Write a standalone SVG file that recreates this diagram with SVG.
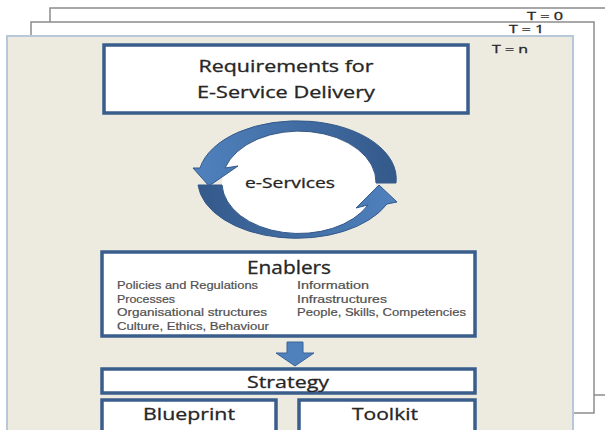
<svg xmlns="http://www.w3.org/2000/svg" width="605" height="430" viewBox="0 0 605 430">
<defs>
<style>
.frame{fill:#ffffff;stroke:#8c8c8c;stroke-width:1.5}
.front{fill:#EDEAE0;stroke:#B7C8DB;stroke-width:2}
.box{fill:#ffffff;stroke:#3A5E8C;stroke-width:3.5}
.t{font-family:"Open Sans","Liberation Sans",sans-serif;fill:#262626;stroke:#262626;stroke-width:0.3}
.item{font-family:"Liberation Sans","Open Sans",sans-serif;fill:#505050;stroke:#505050;stroke-width:0.2;font-size:10.8px}
.ring{stroke:#34598A;stroke-width:1}
</style>
<linearGradient id="gTop" x1="1" y1="0" x2="0" y2="0">
<stop offset="0" stop-color="#34598A"/>
<stop offset="1" stop-color="#5082BE"/>
</linearGradient>
<linearGradient id="gBot" x1="0" y1="0" x2="1" y2="0">
<stop offset="0" stop-color="#34598A"/>
<stop offset="1" stop-color="#5082BE"/>
</linearGradient>
</defs>

<g id="frame-t0">
<rect class="frame" x="50" y="8" width="570" height="387"/>
<text class="t" x="545" y="20" font-size="11" text-anchor="middle" textLength="36" lengthAdjust="spacingAndGlyphs">T = 0</text>
</g>
<g id="frame-t1">
<rect class="frame" x="31" y="22" width="563" height="391"/>
<text class="t" x="526.5" y="33" font-size="11" text-anchor="middle" textLength="35" lengthAdjust="spacingAndGlyphs">T = 1</text>
</g>
<g id="frame-tn">
<rect class="front" x="7" y="36" width="566" height="410"/>
<text class="t" x="510" y="53" font-size="11" text-anchor="middle" textLength="36" lengthAdjust="spacingAndGlyphs">T = n</text>
</g>

<g id="requirements">
<rect class="box" x="104" y="45" width="364" height="68"/>
<text class="t" x="286" y="72" font-size="15.5" text-anchor="middle" textLength="175" lengthAdjust="spacingAndGlyphs">Requirements for</text>
<text class="t" x="286" y="98" font-size="15.5" text-anchor="middle" textLength="178" lengthAdjust="spacingAndGlyphs">E-Service Delivery</text>
</g>

<g id="e-services">
<ellipse cx="299" cy="183" rx="77" ry="51" fill="#ffffff"/>
<path class="ring" fill="url(#gTop)" d="M376,183 L396,183 A99,58 0 0 0 200,168 L193,168 L209,186 L238,166 L225,168 A77,51 0 0 1 376,183 Z"/>
<path class="ring" fill="url(#gBot)" d="M198,185 A99,58 0 0 0 387,204 L397,202 L379,185 L356,208 L368,205 A77,51 0 0 1 222,185 Z"/>
<text class="t" x="290" y="188" font-size="14" text-anchor="middle" textLength="90" lengthAdjust="spacingAndGlyphs">e-Services</text>
</g>

<g id="enablers">
<rect class="box" x="102" y="252" width="373" height="84"/>
<text class="t" x="289" y="274" font-size="17.5" text-anchor="middle" textLength="84" lengthAdjust="spacingAndGlyphs">Enablers</text>
<text class="item" x="117" y="289" textLength="141" lengthAdjust="spacingAndGlyphs">Policies and Regulations</text>
<text class="item" x="117" y="303" textLength="58" lengthAdjust="spacingAndGlyphs">Processes</text>
<text class="item" x="117" y="316" textLength="150" lengthAdjust="spacingAndGlyphs">Organisational structures</text>
<text class="item" x="117" y="330" textLength="152" lengthAdjust="spacingAndGlyphs">Culture, Ethics, Behaviour</text>
<text class="item" x="297" y="289" textLength="72" lengthAdjust="spacingAndGlyphs">Information</text>
<text class="item" x="297" y="303" textLength="90" lengthAdjust="spacingAndGlyphs">Infrastructures</text>
<text class="item" x="297" y="316" textLength="169" lengthAdjust="spacingAndGlyphs">People, Skills, Competencies</text>
</g>

<g id="connectors">
<path d="M287,342 L303,342 L303,353 L314,353 L295,366 L276,353 L287,353 Z" fill="#4F81BD" stroke="#3A6296" stroke-width="1"/>
</g>

<g id="strategy">
<rect class="box" x="102" y="369" width="373" height="24"/>
<text class="t" x="288" y="388" font-size="16.5" text-anchor="middle" textLength="82" lengthAdjust="spacingAndGlyphs">Strategy</text>
</g>

<g id="blueprint">
<rect class="box" x="102" y="400" width="174" height="45"/>
<text class="t" x="189" y="420" font-size="16.5" text-anchor="middle" textLength="92" lengthAdjust="spacingAndGlyphs">Blueprint</text>
</g>

<g id="toolkit">
<rect class="box" x="299" y="400" width="176" height="45"/>
<text class="t" x="385" y="420" font-size="16.5" text-anchor="middle" textLength="66" lengthAdjust="spacingAndGlyphs">Toolkit</text>
</g>
</svg>
